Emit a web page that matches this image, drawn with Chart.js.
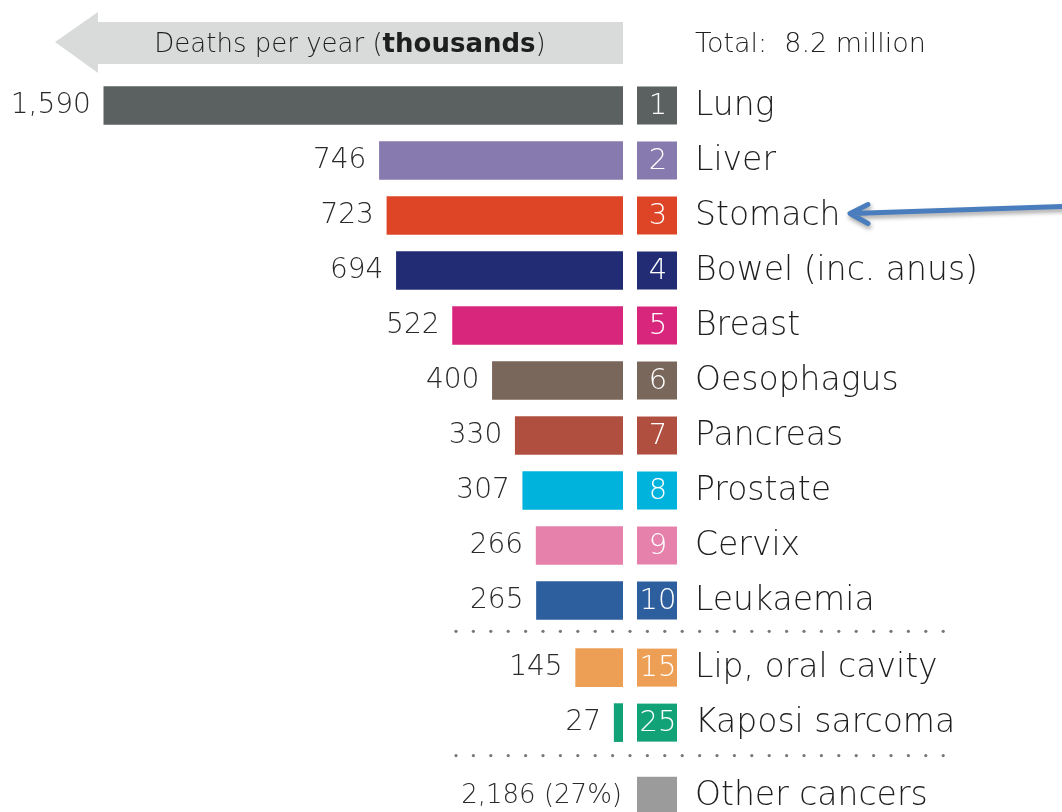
<!DOCTYPE html>
<html>
<head>
<meta charset="utf-8">
<script src="https://cdn.jsdelivr.net/npm/chart.js@4.4.0/dist/chart.umd.min.js"></script>
<style>
  html, body { margin: 0; padding: 0; background: #fff; }
  #wrap { width: 1062px; height: 812px; position: relative; }
</style>
</head>
<body>
<div id="wrap"><canvas id="chart"></canvas></div>
<script>
// data
const cancers = ['Lung', 'Liver', 'Stomach', 'Bowel (inc. anus)', 'Breast', 'Oesophagus',
                 'Pancreas', 'Prostate', 'Cervix', 'Leukaemia', 'Lip, oral cavity', 'Kaposi sarcoma'];
const ranks = [1, 2, 3, 4, 5, 6, 7, 8, 9, 10, 15, 25];
const deaths = [1590, 746, 723, 694, 522, 400, 330, 307, 266, 265, 145, 27];
const barColors = ['#5b6060', '#877aae', '#de4526', '#222c74', '#d8267d', '#7a675b',
                   '#b04f40', '#00b3dd', '#e581ab', '#2d5e9e', '#ee9f56', '#11a277'];
const otherLabel = 'Other cancers';
const otherDeaths = 2186;
const otherShare = 27;
const otherColor = '#9b9b9b';
const totalMillions = 8.2;

// row slots: a little extra room where the dotted separators sit
const GAP1 = 0.22, GAP2 = 0.33;
const slots = ranks.map((r, i) => i < 10 ? i : i + GAP1);
const otherSlot = cancers.length + GAP1 + GAP2;
const separators = [9.56, 11.82];

const FONT = '"DejaVu Sans", sans-serif';
const W = '200';

const labelsPlugin = {
    id: 'labels',
    afterDatasetsDraw(chart) {
        const ctx = chart.ctx;
        const xs = chart.scales.x;
        const ys = chart.scales.y;
        const barRight = xs.getPixelForValue(0);
        const boxL = barRight + 14, boxW = 40, boxH = 38;
        const nameX = boxL + boxW + 18;
        ctx.save();
        ctx.textBaseline = 'middle';

        cancers.forEach((name, i) => {
            const y = ys.getPixelForValue(slots[i]);
            const left = xs.getPixelForValue(deaths[i]);
            // value
            ctx.font = W + ' 28px ' + FONT;
            ctx.fillStyle = '#2a2a2a';
            ctx.textAlign = 'right';
            ctx.fillText(deaths[i].toLocaleString('en-US'), left - 13, y);
            // rank box
            ctx.fillStyle = barColors[i];
            ctx.fillRect(boxL, y - boxH / 2, boxW, boxH);
            ctx.fillStyle = '#fff';
            ctx.textAlign = 'center';
            ctx.font = W + ' 29px ' + FONT;
            ctx.fillText(String(ranks[i]), boxL + boxW / 2 + 1, y + 1, boxW);
            // name
            ctx.fillStyle = '#1e1e1e';
            ctx.textAlign = 'left';
            ctx.font = W + ' 33px ' + FONT;
            ctx.fillText(name, nameX, y + 1);
        });

        // other cancers row
        const yo = ys.getPixelForValue(otherSlot);
        ctx.font = W + ' 26px ' + FONT;
        ctx.fillStyle = '#2a2a2a';
        ctx.textAlign = 'right';
        ctx.fillText(otherDeaths.toLocaleString('en-US') + ' (' + otherShare + '%)', barRight - 1, yo);
        ctx.fillStyle = otherColor;
        ctx.fillRect(boxL, yo - boxH / 2, boxW, boxH);
        ctx.fillStyle = '#1e1e1e';
        ctx.textAlign = 'left';
        ctx.font = W + ' 33px ' + FONT;
        ctx.fillText(otherLabel, nameX, yo + 1);

        // dotted separators
        ctx.fillStyle = '#777';
        separators.forEach(s => {
            const y = ys.getPixelForValue(s);
            for (let x = 456; x <= 944; x += 17.4) {
                ctx.beginPath();
                ctx.arc(x, y, 1.6, 0, Math.PI * 2);
                ctx.fill();
            }
        });

        // header arrow
        ctx.fillStyle = '#d9dbdb';
        ctx.beginPath();
        ctx.moveTo(barRight, 22);
        ctx.lineTo(98, 22);
        ctx.lineTo(98, 12);
        ctx.lineTo(55, 42);
        ctx.lineTo(98, 73);
        ctx.lineTo(98, 64);
        ctx.lineTo(barRight, 64);
        ctx.closePath();
        ctx.fill();

        ctx.fillStyle = '#1e1e1e';
        ctx.textAlign = 'left';
        const p1 = 'Deaths per year (', p2 = 'thousands', p3 = ')';
        const hf = ' 26px ' + FONT;
        ctx.font = W + hf;
        const w1 = ctx.measureText(p1).width, w3 = ctx.measureText(p3).width;
        ctx.font = 'bold' + hf;
        const w2 = ctx.measureText(p2).width;
        let tx = 350 - (w1 + w2 + w3) / 2;
        ctx.font = W + hf;
        ctx.fillText(p1, tx, 45);
        ctx.font = 'bold' + hf;
        ctx.fillText(p2, tx + w1, 45);
        ctx.font = W + hf;
        ctx.fillText(p3, tx + w1 + w2, 45);
        ctx.font = W + ' 27px ' + FONT;
        ctx.fillText('Total:  ' + totalMillions + ' million', nameX, 45);

        // blue pointer to Stomach
        const ys3 = ys.getPixelForValue(slots[2]);
        ctx.strokeStyle = '#4a7dbd';
        ctx.lineWidth = 5;
        ctx.lineCap = 'round';
        ctx.lineJoin = 'round';
        ctx.shadowColor = 'rgba(0,0,0,0.35)';
        ctx.shadowBlur = 4;
        ctx.shadowOffsetX = 1;
        ctx.shadowOffsetY = 3;
        ctx.beginPath();
        ctx.moveTo(1064, ys3 - 9);
        ctx.lineTo(852, ys3 - 2);
        ctx.moveTo(868, ys3 - 11);
        ctx.lineTo(850, ys3 - 2);
        ctx.lineTo(868, ys3 + 8);
        ctx.stroke();
        ctx.restore();
    }
};

new Chart(document.getElementById('chart'), {
    type: 'bar',
    data: {
        datasets: [{
            data: deaths.map((d, i) => ({ x: d, y: slots[i] })),
            backgroundColor: barColors,
            borderWidth: 0,
            barThickness: 38
        }]
    },
    options: {
        indexAxis: 'y',
        responsive: true,
        maintainAspectRatio: false,
        animation: false,
        layout: { padding: { top: 78, right: 439, bottom: 0, left: 0 } },
        scales: {
            x: { type: 'linear', reverse: true, min: 0, max: 1908, display: false },
            y: { type: 'linear', reverse: true, offset: false, min: -0.5, max: 12.845, display: false }
        },
        plugins: { legend: { display: false }, tooltip: { enabled: false } }
    },
    plugins: [labelsPlugin]
});
</script>
</body>
</html>
